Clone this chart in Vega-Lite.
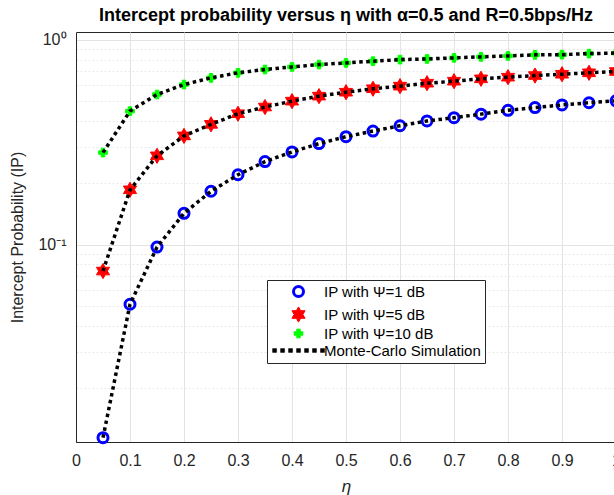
{
  "$schema": "https://vega.github.io/schema/vega-lite/v6.json",
  "width": 540,
  "height": 410,
  "autosize": {"type": "none"},
  "padding": {"left": 76, "top": 32, "right": 0, "bottom": 53},
  "background": "white",
  "title": {"text": "Intercept probability versus η with α=0.5 and R=0.5bps/Hz", "fontSize": 18, "fontWeight": "bold", "color": "#000000", "anchor": "middle", "offset": 7, "font": "Liberation Sans"},
  "config": {
    "font": "Liberation Sans",
    "view": {"stroke": "#262626", "strokeWidth": 1},
    "axis": {"domainColor": "#262626", "domainWidth": 1, "labelColor": "#262626", "titleColor": "#262626", "gridColor": "#e3e3e3", "gridWidth": 1, "labelFont": "Liberation Sans", "titleFont": "Liberation Sans", "labelFontSize": 16, "titleFontWeight": "normal", "ticks": false}
  },
  "data": {"values": [
    {"eta": 0.05, "ip": 0.0114, "s": "IP with Ψ=1 dB"},
    {"eta": 0.10, "ip": 0.0511, "s": "IP with Ψ=1 dB"},
    {"eta": 0.15, "ip": 0.0971, "s": "IP with Ψ=1 dB"},
    {"eta": 0.20, "ip": 0.142, "s": "IP with Ψ=1 dB"},
    {"eta": 0.25, "ip": 0.182, "s": "IP with Ψ=1 dB"},
    {"eta": 0.30, "ip": 0.219, "s": "IP with Ψ=1 dB"},
    {"eta": 0.35, "ip": 0.254, "s": "IP with Ψ=1 dB"},
    {"eta": 0.40, "ip": 0.283, "s": "IP with Ψ=1 dB"},
    {"eta": 0.45, "ip": 0.311, "s": "IP with Ψ=1 dB"},
    {"eta": 0.50, "ip": 0.336, "s": "IP with Ψ=1 dB"},
    {"eta": 0.55, "ip": 0.358, "s": "IP with Ψ=1 dB"},
    {"eta": 0.60, "ip": 0.380, "s": "IP with Ψ=1 dB"},
    {"eta": 0.65, "ip": 0.401, "s": "IP with Ψ=1 dB"},
    {"eta": 0.70, "ip": 0.416, "s": "IP with Ψ=1 dB"},
    {"eta": 0.75, "ip": 0.433, "s": "IP with Ψ=1 dB"},
    {"eta": 0.80, "ip": 0.452, "s": "IP with Ψ=1 dB"},
    {"eta": 0.85, "ip": 0.466, "s": "IP with Ψ=1 dB"},
    {"eta": 0.90, "ip": 0.480, "s": "IP with Ψ=1 dB"},
    {"eta": 0.95, "ip": 0.492, "s": "IP with Ψ=1 dB"},
    {"eta": 1.00, "ip": 0.503, "s": "IP with Ψ=1 dB"},
    {"eta": 0.05, "ip": 0.0742, "s": "IP with Ψ=5 dB"},
    {"eta": 0.10, "ip": 0.185, "s": "IP with Ψ=5 dB"},
    {"eta": 0.15, "ip": 0.271, "s": "IP with Ψ=5 dB"},
    {"eta": 0.20, "ip": 0.339, "s": "IP with Ψ=5 dB"},
    {"eta": 0.25, "ip": 0.386, "s": "IP with Ψ=5 dB"},
    {"eta": 0.30, "ip": 0.435, "s": "IP with Ψ=5 dB"},
    {"eta": 0.35, "ip": 0.469, "s": "IP with Ψ=5 dB"},
    {"eta": 0.40, "ip": 0.501, "s": "IP with Ψ=5 dB"},
    {"eta": 0.45, "ip": 0.530, "s": "IP with Ψ=5 dB"},
    {"eta": 0.50, "ip": 0.554, "s": "IP with Ψ=5 dB"},
    {"eta": 0.55, "ip": 0.576, "s": "IP with Ψ=5 dB"},
    {"eta": 0.60, "ip": 0.593, "s": "IP with Ψ=5 dB"},
    {"eta": 0.65, "ip": 0.613, "s": "IP with Ψ=5 dB"},
    {"eta": 0.70, "ip": 0.627, "s": "IP with Ψ=5 dB"},
    {"eta": 0.75, "ip": 0.644, "s": "IP with Ψ=5 dB"},
    {"eta": 0.80, "ip": 0.656, "s": "IP with Ψ=5 dB"},
    {"eta": 0.85, "ip": 0.668, "s": "IP with Ψ=5 dB"},
    {"eta": 0.90, "ip": 0.678, "s": "IP with Ψ=5 dB"},
    {"eta": 0.95, "ip": 0.689, "s": "IP with Ψ=5 dB"},
    {"eta": 1.00, "ip": 0.699, "s": "IP with Ψ=5 dB"},
    {"eta": 0.05, "ip": 0.281, "s": "IP with Ψ=10 dB"},
    {"eta": 0.10, "ip": 0.448, "s": "IP with Ψ=10 dB"},
    {"eta": 0.15, "ip": 0.540, "s": "IP with Ψ=10 dB"},
    {"eta": 0.20, "ip": 0.604, "s": "IP with Ψ=10 dB"},
    {"eta": 0.25, "ip": 0.651, "s": "IP with Ψ=10 dB"},
    {"eta": 0.30, "ip": 0.689, "s": "IP with Ψ=10 dB"},
    {"eta": 0.35, "ip": 0.715, "s": "IP with Ψ=10 dB"},
    {"eta": 0.40, "ip": 0.736, "s": "IP with Ψ=10 dB"},
    {"eta": 0.45, "ip": 0.756, "s": "IP with Ψ=10 dB"},
    {"eta": 0.50, "ip": 0.770, "s": "IP with Ψ=10 dB"},
    {"eta": 0.55, "ip": 0.785, "s": "IP with Ψ=10 dB"},
    {"eta": 0.60, "ip": 0.799, "s": "IP with Ψ=10 dB"},
    {"eta": 0.65, "ip": 0.805, "s": "IP with Ψ=10 dB"},
    {"eta": 0.70, "ip": 0.815, "s": "IP with Ψ=10 dB"},
    {"eta": 0.75, "ip": 0.824, "s": "IP with Ψ=10 dB"},
    {"eta": 0.80, "ip": 0.833, "s": "IP with Ψ=10 dB"},
    {"eta": 0.85, "ip": 0.843, "s": "IP with Ψ=10 dB"},
    {"eta": 0.90, "ip": 0.845, "s": "IP with Ψ=10 dB"},
    {"eta": 0.95, "ip": 0.855, "s": "IP with Ψ=10 dB"},
    {"eta": 1.00, "ip": 0.860, "s": "IP with Ψ=10 dB"}
  ]},
  "encoding": {
    "x": {"field": "eta", "type": "quantitative", "scale": {"domain": [0, 1], "nice": false, "zero": false},
      "axis": {"title": "η", "titleFontSize": 17, "titleFontStyle": "italic", "titlePadding": 10, "values": [0, 0.1, 0.2, 0.3, 0.4, 0.5, 0.6, 0.7, 0.8, 0.9, 1], "labelExpr": "format(datum.value, '.1~f')", "labelPadding": 10, "labelFlush": false, "labelOverlap": false, "grid": true}},
    "y": {"field": "ip", "type": "quantitative", "scale": {"type": "log", "domain": [0.01086, 1.09], "nice": false, "zero": false},
      "axis": {"title": "Intercept Probability (IP)", "titleFontSize": 16, "titlePadding": 12, "values": [0.02, 0.03, 0.04, 0.05, 0.06, 0.07, 0.08, 0.09, 0.1, 0.2, 0.3, 0.4, 0.5, 0.6, 0.7, 0.8, 0.9, 1],
        "labelExpr": "datum.value == 1 ? '10⁰' : (datum.value == 0.1 ? '10⁻¹' : '')", "labelPadding": 10, "labelOverlap": false, "labelFlush": false,
        "gridDash": {"condition": {"test": "datum.value == 1 || datum.value == 0.1", "value": []}, "value": [2, 2]},
        "gridColor": {"condition": {"test": "datum.value == 1 || datum.value == 0.1", "value": "#e3e3e3"}, "value": "#e8e8e8"}}}
  },
  "layer": [
    {
      "mark": {"type": "point", "opacity": 1},
      "encoding": {
        "shape": {"field": "s", "type": "nominal", "scale": {"domain": ["IP with Ψ=1 dB", "IP with Ψ=5 dB", "IP with Ψ=10 dB", "Monte-Carlo Simulation"], "range": ["circle", "M0,-1L0.289,-0.5L0.866,-0.5L0.577,0L0.866,0.5L0.289,0.5L0,1L-0.289,0.5L-0.866,0.5L-0.577,0L-0.866,-0.5L-0.289,-0.5Z", "cross", "M-3.7,-0.27h0.57v0.54h-0.57Z M-2.56,-0.27h0.57v0.54h-0.57Z M-1.42,-0.27h0.57v0.54h-0.57Z M-0.28,-0.27h0.57v0.54h-0.57Z M0.86,-0.27h0.57v0.54h-0.57Z M2,-0.27h0.57v0.54h-0.57Z M3.14,-0.27h0.57v0.54h-0.57Z"]},
          "legend": {"title": null, "orient": "none", "legendX": 191, "legendY": 248, "strokeColor": "#262626", "fillColor": "white", "padding": 4, "labelFontSize": 15, "labelColor": "#000000", "labelLimit": 300, "symbolOffset": 19, "labelOffset": 17, "rowPadding": 1}},
        "fill": {"field": "s", "type": "nominal", "scale": {"domain": ["IP with Ψ=1 dB", "IP with Ψ=5 dB", "IP with Ψ=10 dB", "Monte-Carlo Simulation"], "range": ["transparent", "#ff0000", "#00ff00", "#000000"]}},
        "stroke": {"field": "s", "type": "nominal", "scale": {"domain": ["IP with Ψ=1 dB", "IP with Ψ=5 dB", "IP with Ψ=10 dB", "Monte-Carlo Simulation"], "range": ["#0000ff", "#ff0000", "#00ff00", "#000000"]}},
        "size": {"field": "s", "type": "nominal", "scale": {"type": "ordinal", "domain": ["IP with Ψ=1 dB", "IP with Ψ=5 dB", "IP with Ψ=10 dB", "Monte-Carlo Simulation"], "range": [100, 230, 75, 196]}},
        "strokeWidth": {"field": "s", "type": "nominal", "scale": {"type": "ordinal", "domain": ["IP with Ψ=1 dB", "IP with Ψ=5 dB", "IP with Ψ=10 dB", "Monte-Carlo Simulation"], "range": [3, 1, 1, 0.5]}}
      }
    },
    {
      "mark": {"type": "line", "color": "#000000", "strokeWidth": 3.5, "strokeDash": [3.5, 3.5], "strokeCap": "butt"},
      "encoding": {"detail": {"field": "s", "type": "nominal"}}
    }
  ]
}
